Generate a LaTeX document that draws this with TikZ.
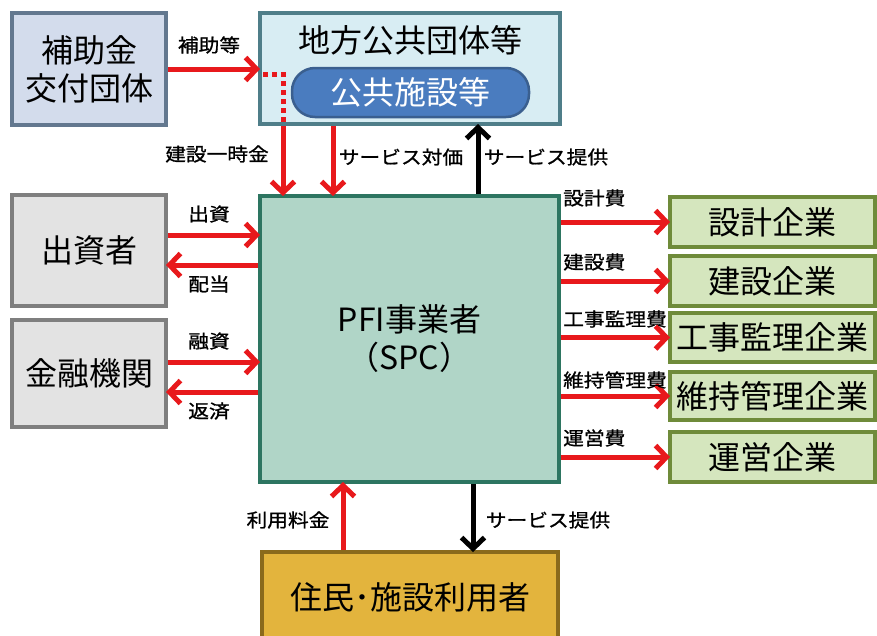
\documentclass[tikz,border=0pt]{standalone}
\usepackage{fontspec}
\setmainfont{Noto Sans CJK JP}
\newfontfamily\lblfont[FakeStretch=1.12,FakeBold=1]{Noto Sans CJK JP}
\usetikzlibrary{arrows.meta}
\definecolor{subfill}{HTML}{D3DCEC}
\definecolor{subdraw}{HTML}{63788F}
\definecolor{locfill}{HTML}{D8EDF3}
\definecolor{locdraw}{HTML}{4F7E89}
\definecolor{facfill}{HTML}{4A7CBF}
\definecolor{facdraw}{HTML}{3A5F8F}
\definecolor{grayfill}{HTML}{E3E3E3}
\definecolor{graydraw}{HTML}{7F7F7F}
\definecolor{pfifill}{HTML}{B0D5C7}
\definecolor{pfidraw}{HTML}{2D7561}
\definecolor{entfill}{HTML}{D5E6BE}
\definecolor{entdraw}{HTML}{6F8B3A}
\definecolor{resfill}{HTML}{E3B43D}
\definecolor{resdraw}{HTML}{8A6A1C}
\definecolor{arrred}{HTML}{E8191C}
\begin{document}
\begin{tikzpicture}[x=1pt,y=-1pt,
  box/.style={draw, line width=4pt, inner sep=0pt, align=center,
    font=\fontsize{32}{38}\selectfont},
  lbl/.style={inner sep=0pt, font=\lblfont\fontsize{18.5}{22}\selectfont},
  rarr/.style={draw=arrred, line width=5pt, shorten >=-2pt, -{Straight Barb[length=11pt,width=23pt]}},
  karr/.style={draw=black, line width=5pt, shorten >=-2pt, -{Straight Barb[length=11pt,width=23pt]}},
  rdot/.style={draw=arrred, line width=5pt, dash pattern=on 5pt off 4pt}]
\useasboundingbox (0,0) rectangle (877,635);
\fill[white] (0,0) rectangle (877,635);

% boxes
\node[box, fill=subfill, draw=subdraw, minimum width=154pt, minimum height=112pt] (sub) at (89,69) {補助金\\交付団体};
\node[box, fill=locfill, draw=locdraw, minimum width=300pt, minimum height=111pt] (loc) at (410,68.5) {};
\node[inner sep=0pt, font=\fontsize{32}{36}\selectfont] (loctitle) at (410,40) {地方公共団体等};
\node[box, fill=facfill, draw=facdraw, line width=2.5pt, rounded corners=23pt, text=white,
  minimum width=237pt, minimum height=49pt] (fac) at (410.5,92.5) {公共施設等};
\node[box, fill=pfifill, draw=pfidraw, minimum width=299pt, minimum height=286pt] (pfi) at (409.5,339) {PFI事業者\\（SPC）};
\node[box, fill=grayfill, draw=graydraw, minimum width=154pt, minimum height=111pt] (inv) at (89,250.5) {出資者};
\node[box, fill=grayfill, draw=graydraw, minimum width=154pt, minimum height=107pt] (bank) at (89,373.5) {金融機関};
\node[box, fill=entfill, draw=entdraw, minimum width=205pt, minimum height=50pt] (d1) at (772.5,222) {設計企業};
\node[box, fill=entfill, draw=entdraw, minimum width=205pt, minimum height=50pt] (d2) at (772.5,281) {建設企業};
\node[box, fill=entfill, draw=entdraw, minimum width=205pt, minimum height=49pt] (d3) at (772.5,337.5) {工事監理企業};
\node[box, fill=entfill, draw=entdraw, minimum width=205pt, minimum height=48pt] (d4) at (772.5,396) {維持管理企業};
\node[box, fill=entfill, draw=entdraw, minimum width=205pt, minimum height=50pt] (d5) at (772.5,457) {運営企業};
\node[box, fill=resfill, draw=resdraw, minimum width=296pt, minimum height=90pt] (res) at (410,597) {住民･施設利用者};

% helper coordinates
\coordinate (dA) at (263,74);
\coordinate (dB) at (283,74);
\coordinate (cSv) at (333,0);
\coordinate (cSp) at (478,0);
\coordinate (cFee) at (343,0);
\coordinate (cSp2) at (473,0);
\coordinate (yInv1) at (0,235);
\coordinate (yInv2) at (0,265);
\coordinate (yBank1) at (0,362);
\coordinate (yBank2) at (0,392);

% top connectors
\draw[rarr] (sub.east) -- (sub.east -| loc.west);
\draw[rdot] (dA) -- (dB) -- (dB |- loc.south);
\draw[rarr] (dB |- loc.south) -- (dB |- pfi.north);
\draw[rarr] (cSv |- loc.south) -- (cSv |- pfi.north);
\draw[karr] (cSp |- pfi.north) -- (cSp |- loc.south);

% left connectors
\draw[rarr] (inv.east |- yInv1) -- (pfi.west |- yInv1);
\draw[rarr] (pfi.west |- yInv2) -- (inv.east |- yInv2);
\draw[rarr] (bank.east |- yBank1) -- (pfi.west |- yBank1);
\draw[rarr] (pfi.west |- yBank2) -- (bank.east |- yBank2);

% right connectors
\draw[rarr] (pfi.east |- d1.west) -- (d1.west);
\draw[rarr] (pfi.east |- d2.west) -- (d2.west);
\draw[rarr] (pfi.east |- d3.west) -- (d3.west);
\draw[rarr] (pfi.east |- d4.west) -- (d4.west);
\draw[rarr] (pfi.east |- d5.west) -- (d5.west);

% bottom connectors
\draw[rarr] (cFee |- res.north) -- (cFee |- pfi.south);
\draw[karr] (cSp2 |- pfi.south) -- (cSp2 |- res.north);

% labels
\node[lbl] (l1) at (209,45) {補助等};
\node[lbl] (l2) at (217,154) {建設一時金};
\node[lbl] (l3) at (401,157) {サービス対価};
\node[lbl] (l4) at (546,157) {サービス提供};
\node[lbl] (l5) at (209,214) {出資};
\node[lbl] (l6) at (209,284) {配当};
\node[lbl] (l7) at (209,341) {融資};
\node[lbl] (l8) at (209,411) {返済};
\node[lbl, anchor=west] (l9) at (563,198) {設計費};
\node[lbl, anchor=west] (l10) at (563,262) {建設費};
\node[lbl, anchor=west] (l11) at (563,319) {工事監理費};
\node[lbl, anchor=west] (l12) at (563,380) {維持管理費};
\node[lbl, anchor=west] (l13) at (563,438) {運営費};
\node[lbl] (l14) at (288,520) {利用料金};
\node[lbl] (l15) at (548,520) {サービス提供};
\end{tikzpicture}
\end{document}
